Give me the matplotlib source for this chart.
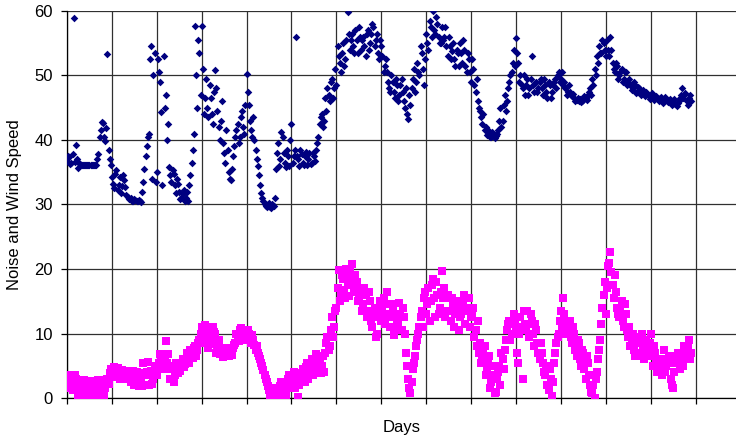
import matplotlib
matplotlib.use("Agg")
import matplotlib.pyplot as plt
import numpy as np

# one reading every 0.05 day, plus a second set logged halfway between
STEP = 0.05

noise = [
    36.8, 37.3, 36.5, 58.9, 39.2, 35.6, 36.3, 36.2, 36.2, 36.2,
    36.2, 36.2, 36.2, 36.2, 37.8, 41.5, 42.6, 39.8, 53.3, 37.0,
    34.2, 32.5, 35.3, 33.0, 31.8, 34.5, 32.7, 31.2, 30.8, 30.6,
    30.9, 30.5, 30.7, 30.4, 33.5, 37.5, 40.5, 52.5, 34.0, 53.5,
    35.0, 50.5, 44.3, 53.0, 47.0, 42.5, 34.5, 35.3, 33.0, 34.0,
    32.0, 31.0, 32.2, 31.0, 30.6, 34.5, 38.5, 57.6, 45.0, 53.5,
    57.6, 44.0, 49.5, 43.5, 46.5, 42.5, 50.8, 44.5, 40.0, 46.0,
    38.0, 41.5, 35.0, 33.8, 37.5, 40.5, 42.5, 40.5, 44.5, 41.0,
    50.3, 45.5, 41.5, 43.5, 38.5, 36.0, 33.0, 31.0, 30.0, 29.6,
    30.2, 29.5, 29.8, 35.5, 39.5, 37.0, 40.5, 36.5, 38.5, 36.0,
    42.5, 37.5, 56.0, 37.0, 38.5, 36.5, 37.5, 36.2, 38.0, 36.5,
    37.5, 38.5, 40.5, 43.5, 42.0, 46.5, 48.0, 46.0, 49.5, 48.0,
    48.5, 53.0, 50.5, 55.0, 52.5, 59.8, 54.0, 56.5, 53.5, 55.5,
    57.5, 54.0, 56.0, 53.0, 57.0, 55.0, 58.0, 54.5, 56.5, 52.5,
    54.5, 50.5, 52.5, 49.0, 47.5, 49.0, 46.5, 48.5, 47.0, 49.5,
    46.0, 48.0, 43.3, 45.5, 49.5, 47.5, 52.0, 50.0, 53.5, 48.5,
    56.5, 54.0, 57.5, 60.0, 56.5, 58.0, 55.0, 57.5, 56.0, 54.5,
    56.0, 52.5, 55.0, 51.5, 53.5, 55.0, 52.0, 54.0, 50.5, 52.5,
    49.0, 51.0, 47.5, 46.0, 44.5, 42.5, 41.5, 40.8, 41.3, 40.5,
    41.0, 40.6, 41.5, 45.0, 43.0, 47.0, 46.0, 49.0, 50.5, 54.0,
    55.8, 52.0, 50.0, 48.0, 47.0, 49.5, 48.0, 53.1, 47.5, 49.0,
    48.0, 49.5, 47.0, 48.5, 46.5, 48.5, 47.5, 49.0, 48.0, 50.5,
    49.5, 48.5, 48.0, 47.5, 47.5, 46.8, 46.5, 46.2, 46.0, 45.9,
    46.2, 46.5, 47.0, 48.0, 49.5, 51.0, 53.0, 54.5, 53.5, 55.0,
    53.0, 54.0, 56.0, 52.0, 50.5, 51.5, 50.0, 51.0, 49.5, 50.5,
    49.0, 48.5, 48.0, 48.5, 47.5, 48.0, 47.5, 47.3, 47.5, 47.0,
    46.8, 47.0, 46.6, 46.5, 46.5, 46.3, 46.2, 46.3, 46.0, 46.1,
    45.8, 45.6, 45.8, 46.5, 48.1, 47.0, 46.0, 46.5, 46.0,
]

noise_mid = [
    37.5, 36.3, 37.8, 36.6, 37.0, 36.4, 36.2, 36.2, 36.2, 36.2,
    36.2, 36.2, 36.2, 37.0, 40.5, 42.8, 40.5, 41.8, 38.5, 36.2,
    33.2, 34.8, 32.2, 34.2, 32.8, 33.8, 31.5, 30.8, 31.0, 30.5,
    30.7, 30.6, 30.5, 32.0, 35.5, 39.0, 41.0, 54.5, 50.0, 33.5,
    52.5, 49.0, 33.0, 45.0, 40.0, 35.8, 33.5, 34.8, 31.8, 33.2,
    30.8, 31.6, 30.5, 32.0, 33.0, 36.5, 41.0, 50.0, 55.5, 47.0,
    51.0, 46.5, 45.0, 48.5, 44.0, 47.5, 48.0, 42.0, 43.0, 39.5,
    36.5, 38.5, 34.0, 35.5, 39.0, 41.5, 39.5, 43.5, 42.0, 45.5,
    47.5, 43.0, 40.5, 40.0, 37.0, 34.5, 31.8, 30.5, 29.8, 30.0,
    29.6, 30.0, 31.0, 38.0, 36.0, 41.2, 38.0, 35.8, 37.5, 40.0,
    36.5, 38.5, 37.5, 36.0, 37.8, 36.2, 38.2, 37.0, 36.3, 38.0,
    36.8, 39.5, 42.5, 44.0, 43.0, 44.5, 47.0, 49.0, 46.5, 51.0,
    54.5, 52.0, 53.5, 51.5, 55.5, 56.5, 55.5, 54.5, 57.0, 53.5,
    56.0, 55.5, 54.5, 56.5, 54.0, 56.5, 57.5, 55.5, 53.5, 55.5,
    53.0, 51.5, 50.5, 48.0, 50.0, 47.5, 49.5, 46.0, 48.5, 47.5,
    45.0, 44.0, 47.0, 48.0, 51.0, 49.0, 50.5, 54.5, 51.0, 52.5,
    55.0, 58.5, 56.0, 57.0, 59.0, 56.0, 55.0, 55.5, 57.5, 53.0,
    54.5, 53.8, 52.5, 54.0, 51.5, 53.5, 55.5, 51.5, 53.5, 50.5,
    52.5, 48.5, 49.5, 45.0, 43.5, 44.0, 42.0, 41.5, 40.5, 41.2,
    40.3, 41.0, 43.0, 42.0, 45.5, 44.5, 48.0, 50.0, 52.0, 51.5,
    53.5, 49.0, 48.5, 50.0, 48.5, 47.0, 49.5, 48.5, 48.8, 47.5,
    49.0, 48.0, 49.5, 47.5, 49.0, 46.5, 48.5, 49.5, 50.0, 49.0,
    50.5, 49.0, 47.0, 48.5, 47.0, 47.2, 46.0, 46.5, 46.4, 46.0,
    46.8, 46.2, 47.5, 47.0, 48.5, 50.0, 52.0, 53.5, 55.5, 54.0,
    55.5, 53.0, 54.0, 51.0, 52.0, 49.5, 50.5, 49.0, 50.5, 48.5,
    49.5, 47.8, 49.0, 47.3, 48.2, 46.9, 47.8, 46.8, 47.2, 46.3,
    47.3, 46.2, 46.8, 46.0, 46.6, 45.8, 46.6, 45.9, 46.4, 45.5,
    46.3, 45.3, 46.0, 47.0, 46.5, 47.3, 45.5, 47.0,
]

wind = [
    2.5, 1.5, 3.5, 2.0, 3.0, 0.5, 2.2, 1.0, 0.0, 2.5,
    1.2, 0.2, 2.0, 0.5, 2.8, 0.0, 2.3, 1.5, 3.0, 3.8,
    3.2, 4.8, 4.2, 3.6, 4.0, 3.3, 3.8, 3.0, 4.0, 3.5,
    2.0, 4.0, 1.8, 3.0, 5.5, 2.0, 5.6, 3.5, 2.2, 4.5,
    3.5, 5.5, 6.5, 4.5, 8.8, 6.8, 3.0, 4.5, 3.5, 4.5,
    5.0, 5.5, 4.8, 6.0, 6.5, 7.5, 6.2, 8.0, 7.5, 9.0,
    11.0, 8.5, 10.5, 7.8, 9.5, 11.0, 10.0, 8.0, 6.8, 7.5,
    6.5, 7.2, 6.5, 7.0, 7.8, 8.5, 9.5, 10.5, 9.0, 10.3,
    9.5, 10.0, 8.5, 9.0, 7.5, 7.0, 6.0, 5.0, 3.5, 2.5,
    1.2, 0.3, 1.0, 0.0, 0.5, 1.8, 0.8, 2.5, 1.5, 3.5,
    2.5, 4.0, 2.0, 0.2, 3.0, 4.5, 2.5, 5.5, 4.0, 6.0,
    4.5, 6.8, 5.5, 3.8, 6.5, 7.0, 9.5, 8.0, 12.5, 11.0,
    14.0, 19.8, 16.0, 18.5, 15.5, 17.5, 19.5, 20.8, 16.5, 18.0,
    15.5, 17.0, 14.5, 16.0, 13.5, 15.0, 11.0, 14.0, 10.0, 13.5,
    12.0, 15.5, 13.0, 14.5, 11.0, 13.5, 10.5, 12.0, 14.8, 10.5,
    12.5, 7.0, 3.0, 0.8, 4.5, 6.5, 9.0, 11.0, 13.5, 15.5,
    13.0, 17.0, 15.0, 18.5, 12.5, 16.0, 14.0, 19.7, 17.0, 13.5,
    15.5, 12.0, 14.5, 13.0, 15.0, 12.5, 14.0, 16.0, 13.5, 15.5,
    12.5, 14.0, 10.5, 12.0, 8.5, 6.5, 8.0, 4.5, 6.5, 2.5,
    5.0, 1.0, 4.0, 2.0, 6.0, 7.5, 10.5, 12.0, 10.0, 13.0,
    11.0, 5.5, 12.5, 3.0, 11.5, 13.5, 9.5, 12.0, 8.0, 10.5,
    7.0, 8.5, 5.5, 3.5, 2.0, 4.5, 0.3, 5.5, 8.5, 10.0,
    13.5, 15.5, 12.0, 10.5, 12.0, 8.5, 10.0, 6.5, 8.5, 5.0,
    7.0, 3.0, 5.5, 2.0, 0.8, 0.0, 4.0, 7.5, 11.5, 16.0,
    13.0, 20.5, 22.6, 17.5, 19.0, 14.0, 12.5, 15.0, 11.0, 13.0,
    9.5, 8.0, 10.0, 6.5, 8.5, 7.0, 10.0, 6.0, 9.0, 7.5,
    10.0, 5.0, 7.0, 4.0, 6.0, 3.5, 7.5, 5.0, 6.5, 3.0,
    1.5, 5.5, 7.0, 4.5, 6.0, 8.0, 6.5, 9.0, 7.0,
]

wind_mid = [
    3.2, 2.8, 1.2, 3.5, 1.5, 2.5, 0.3, 2.8, 1.5, 0.5,
    2.6, 1.0, 0.0, 1.8, 1.0, 2.5, 0.3, 2.8, 2.2, 4.5,
    4.0, 3.8, 4.6, 3.0, 4.4, 3.0, 4.2, 3.5, 2.5, 4.2,
    3.2, 2.2, 3.8, 1.8, 3.5, 4.0, 2.0, 4.2, 3.0, 5.0,
    4.5, 6.8, 5.5, 6.5, 5.5, 4.5, 5.0, 2.5, 5.5, 3.8,
    4.2, 6.0, 5.2, 7.0, 5.5, 6.8, 7.8, 6.5, 8.5, 10.0,
    9.5, 11.3, 8.8, 10.8, 8.3, 10.3, 7.0, 9.0, 7.2, 6.4,
    7.8, 6.8, 7.4, 6.6, 8.2, 10.0, 8.8, 10.8, 9.8, 9.0,
    10.5, 9.2, 9.8, 8.2, 8.0, 6.5, 5.5, 4.3, 3.0, 1.8,
    0.5, 1.5, 0.0, 1.2, 0.0, 2.5, 1.5, 0.5, 3.0, 1.5,
    3.2, 1.5, 3.8, 2.0, 3.8, 3.2, 4.8, 3.0, 5.2, 3.5,
    5.8, 4.2, 6.0, 5.0, 4.0, 8.5, 7.5, 10.5, 9.5, 13.5,
    17.0, 15.0, 19.0, 16.8, 20.0, 15.8, 18.5, 17.5, 19.0, 15.0,
    16.5, 13.5, 17.0, 12.5, 16.5, 12.0, 13.0, 9.5, 12.5, 15.0,
    14.0, 11.5, 16.5, 12.5, 14.5, 9.8, 13.0, 11.5, 13.0, 14.0,
    10.0, 5.0, 1.5, 2.5, 5.5, 8.0, 10.0, 12.5, 11.0, 16.5,
    14.5, 12.0, 17.5, 15.5, 18.0, 13.0, 16.5, 15.5, 12.5, 16.0,
    13.5, 15.5, 11.0, 14.0, 10.5, 13.0, 15.0, 11.5, 14.0, 11.0,
    13.0, 9.5, 8.0, 7.0, 5.5, 7.5, 3.5, 5.5, 1.5, 3.5,
    0.8, 3.0, 5.0, 7.0, 4.5, 9.0, 11.5, 9.0, 11.5, 12.0,
    7.0, 10.0, 11.0, 13.5, 10.5, 11.5, 13.0, 10.0, 11.5, 8.5,
    6.0, 7.0, 4.0, 5.0, 1.2, 3.0, 2.5, 7.0, 9.5, 12.0,
    11.0, 13.0, 10.0, 11.5, 9.5, 11.0, 7.5, 9.0, 6.0, 7.5,
    4.5, 6.5, 3.5, 1.0, 2.0, 3.0, 6.0, 9.0, 14.0, 18.0,
    17.0, 21.0, 19.5, 15.5, 16.5, 13.0, 14.0, 12.0, 14.5, 10.5,
    11.0, 9.0, 7.5, 9.5, 6.5, 9.0, 8.0, 7.5, 6.5, 8.5,
    6.5, 8.0, 5.5, 5.0, 4.5, 6.0, 4.0, 6.0, 5.5, 2.0,
    4.0, 6.5, 5.5, 7.0, 5.0, 7.5, 8.0, 6.0,
]

y_ticks = [0, 10, 20, 30, 40, 50, 60]

plt.rcParams["font.family"] = ["Liberation Sans", "DejaVu Sans"]

fig = plt.figure(figsize=(7.36, 4.37), dpi=100)
ax = fig.add_axes([67 / 736, 39 / 437, 669 / 736, 387 / 437])

days = np.arange(len(noise)) * STEP
days_mid = (np.arange(len(noise_mid)) + 0.5) * STEP
noise_days = np.concatenate([days, days_mid])
noise_vals = np.concatenate([noise, noise_mid])

days_w = np.arange(len(wind)) * STEP
days_w_mid = (np.arange(len(wind_mid)) + 0.5) * STEP
wind_days = np.concatenate([days_w, days_w_mid])
wind_vals = np.concatenate([wind, wind_mid])

ax.scatter(noise_days, noise_vals, marker="D", s=15, color="#000080", linewidths=0, zorder=3)
ax.scatter(wind_days, wind_vals, marker="s", s=26, color="#FF00FF", linewidths=0, zorder=3)

ax.set_xlim(0, 14.9)
ax.set_ylim(0, 60)
ax.set_xticks(np.arange(0, 15, 1))
ax.set_xticklabels([])
ax.set_yticks(y_ticks)
ax.set_yticklabels([str(t) for t in y_ticks], fontsize=12)

ax.grid(True, color="#303030", linewidth=0.9, zorder=0)
ax.set_axisbelow(True)
for side in ["top", "right"]:
    ax.spines[side].set_visible(False)
for side in ["left", "bottom"]:
    ax.spines[side].set_color("black")
    ax.spines[side].set_linewidth(0.9)
ax.tick_params(axis="both", direction="out", length=4.5, width=0.9, color="black")
ax.tick_params(axis="y", pad=5.5)

ax.set_xlabel("Days", fontsize=12, va="top")
ax.xaxis.set_label_coords(0.5, -0.058)
ax.set_ylabel("Noise and Wind Speed", fontsize=12)
ax.yaxis.set_label_coords(-0.068, 0.5)

fig.savefig("out.png", dpi=100)
